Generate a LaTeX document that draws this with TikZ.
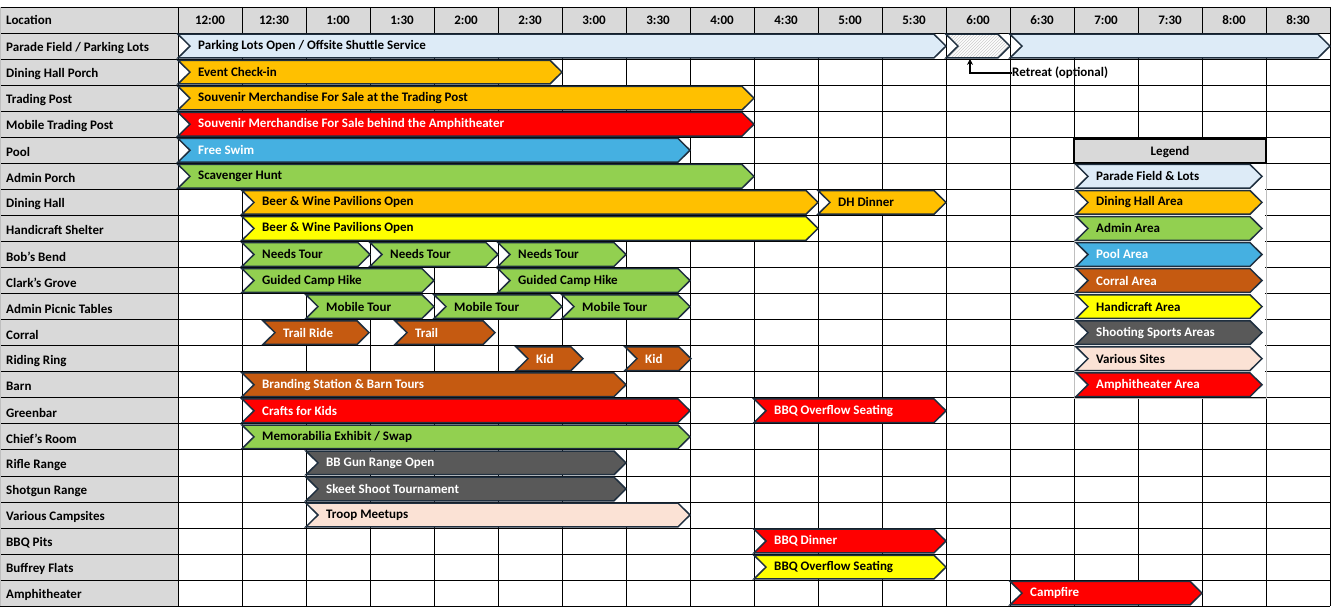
\documentclass[tikz,border=0pt]{standalone}
\usepackage{fontspec}
\setmainfont{Carlito}
\usetikzlibrary{patterns,arrows.meta}
\definecolor{lb}{HTML}{DDEBF7}
\definecolor{orn}{HTML}{FFC000}
\definecolor{rd}{HTML}{FF0000}
\definecolor{bl}{HTML}{45B0E1}
\definecolor{gr}{HTML}{92D050}
\definecolor{br}{HTML}{C55A11}
\definecolor{yl}{HTML}{FFFF00}
\definecolor{dg}{HTML}{595959}
\definecolor{pc}{HTML}{FBE2D5}
\definecolor{bd}{HTML}{1F2F3F}
\definecolor{hd}{HTML}{D9D9D9}
\newcounter{bn}
\newcommand\cx[1]{178+64*#1}
\newcommand\chev[6]{%
 \pgfmathsetmacro\yt{7+26.05*#3+1.2}%
 \pgfmathsetmacro\yb{7+26.05*(#3+1)-1.2}%
 \pgfmathsetmacro\ym{(\yt+\yb)/2}%
 \stepcounter{bn}%
 \filldraw[barline,fill=#4] (#1,\yt) -- (#2-12,\yt) -- (#2,\ym) -- (#2-12,\yb) -- (#1,\yb) -- (#1+12,\ym) -- cycle;
 \node[lab,text=#5] (b\thebn) at (#1+20,\ym) {#6};}
\begin{document}
\begin{tikzpicture}[x=1pt,y=-1pt,
 barline/.style={draw=bd,line width=1.5pt,line join=miter},
 lab/.style={anchor=west,font=\fontsize{13}{15}\selectfont\bfseries,inner sep=0pt},
 rowlab/.style={anchor=west,font=\fontsize{13}{15}\selectfont\bfseries,inner sep=0pt}]
\useasboundingbox (0,0) rectangle (1334,607);
\fill[white] (0,0) rectangle (1334,607);
% header and left column
\fill[hd] (0,7) rectangle (1330,33.05);
\fill[hd] (0,7) rectangle (178,606);
% grid
\foreach \r in {0,...,23}{\draw[line width=0.8pt] (0,7+26.05*\r) -- (1330,7+26.05*\r);}
\foreach \i in {0,...,18}{\draw[line width=0.8pt] (\cx{\i},7) -- (\cx{\i},606);}
\draw[gray!50] (0,7) -- (0,606);
% header texts
\node[rowlab] (loc) at (6,20) {Location};
\foreach \t [count=\k from 0] in {12:00,12:30,1:00,1:30,2:00,2:30,3:00,3:30,4:00,4:30,5:00,5:30,6:00,6:30,7:00,7:30,8:00,8:30}
 {\node[font=\fontsize{13}{15}\selectfont\bfseries,inner sep=0pt] (h\k) at (210+64*\k,20) {\t};}
\foreach \t [count=\k from 1] in {Parade Field / Parking Lots,Dining Hall Porch,Trading Post,Mobile Trading Post,Pool,Admin Porch,Dining Hall,Handicraft Shelter,Bob's Bend,Clark's Grove,Admin Picnic Tables,Corral,Riding Ring,Barn,Greenbar,Chief's Room,Rifle Range,Shotgun Range,Various Campsites,BBQ Pits,Buffrey Flats,Amphitheater}
 {\node[rowlab] (r\k) at (6,7+26.05*\k+15) {\t};}
% legend area
\fill[white] (\cx{14}+1,7+26.05*6) rectangle (\cx{17}-1,7+26.05*15-1);
\draw[black!25] (\cx{14},7+26.05*6) rectangle (\cx{17},7+26.05*15);
\filldraw[fill=hd,draw=black,line width=1.6pt] (\cx{14},7+26.05*5+2) rectangle (\cx{17},7+26.05*6);
\node[font=\fontsize{13}{15}\selectfont\bfseries,inner sep=0pt] (leg) at (1170,7+26.05*5.55) {Legend};
% bars
\chev{\cx{0}}{\cx{12}}{1}{lb}{black}{Parking Lots Open / Offsite Shuttle Service}
\pgfmathsetmacro\yt{7+26.05+1.2}\pgfmathsetmacro\yb{7+26.05*2-1.2}\pgfmathsetmacro\ym{(\yt+\yb)/2}
\path[fill=white] (\cx{12},\yt) -- (\cx{13}-12,\yt) -- (\cx{13},\ym) -- (\cx{13}-12,\yb) -- (\cx{12},\yb) -- (\cx{12}+12,\ym) -- cycle;
\path[pattern=north east lines,pattern color=gray!40] (\cx{12},\yt) -- (\cx{13}-12,\yt) -- (\cx{13},\ym) -- (\cx{13}-12,\yb) -- (\cx{12},\yb) -- (\cx{12}+12,\ym) -- cycle;
\draw[barline] (\cx{12},\yt) -- (\cx{13}-12,\yt) -- (\cx{13},\ym) -- (\cx{13}-12,\yb) -- (\cx{12},\yb) -- (\cx{12}+12,\ym) -- cycle;
\coordinate (hatch) at (970,\yb);
\chev{\cx{13}}{\cx{18}}{1}{lb}{black}{}
\chev{\cx{0}}{\cx{6}}{2}{orn}{black}{Event Check-in}
\chev{\cx{0}}{\cx{9}}{3}{orn}{black}{Souvenir Merchandise For Sale at the Trading Post}
\chev{\cx{0}}{\cx{9}}{4}{rd}{white}{Souvenir Merchandise For Sale behind the Amphitheater}
\chev{\cx{0}}{\cx{8}}{5}{bl}{white}{Free Swim}
\chev{\cx{0}}{\cx{9}}{6}{gr}{black}{Scavenger Hunt}
\chev{\cx{1}}{\cx{10}}{7}{orn}{black}{Beer \& Wine Pavilions Open}
\chev{\cx{10}}{\cx{12}}{7}{orn}{black}{DH Dinner}
\chev{\cx{1}}{\cx{10}}{8}{yl}{black}{Beer \& Wine Pavilions Open}
\chev{\cx{1}}{\cx{3}}{9}{gr}{black}{Needs Tour}
\chev{\cx{3}}{\cx{5}}{9}{gr}{black}{Needs Tour}
\chev{\cx{5}}{\cx{7}}{9}{gr}{black}{Needs Tour}
\chev{\cx{1}}{\cx{4}}{10}{gr}{black}{Guided Camp Hike}
\chev{\cx{5}}{\cx{8}}{10}{gr}{black}{Guided Camp Hike}
\chev{\cx{2}}{\cx{4}}{11}{gr}{black}{Mobile Tour}
\chev{\cx{4}}{\cx{6}}{11}{gr}{black}{Mobile Tour}
\chev{\cx{6}}{\cx{8}}{11}{gr}{black}{Mobile Tour}
\chev{263}{369}{12}{br}{white}{Trail Ride}
\chev{395}{495}{12}{br}{white}{Trail}
\chev{516}{583}{13}{br}{white}{Kid}
\chev{625}{691}{13}{br}{white}{Kid}
\chev{\cx{1}}{\cx{7}}{14}{br}{white}{Branding Station \& Barn Tours}
\chev{\cx{1}}{\cx{8}}{15}{rd}{white}{Crafts for Kids}
\chev{\cx{9}}{\cx{12}}{15}{rd}{white}{BBQ Overflow Seating}
\chev{\cx{1}}{\cx{8}}{16}{gr}{black}{Memorabilia Exhibit / Swap}
\chev{\cx{2}}{\cx{7}}{17}{dg}{white}{BB Gun Range Open}
\chev{\cx{2}}{\cx{7}}{18}{dg}{white}{Skeet Shoot Tournament}
\chev{\cx{2}}{\cx{8}}{19}{pc}{black}{Troop Meetups}
\chev{\cx{9}}{\cx{12}}{20}{rd}{white}{BBQ Dinner}
\chev{\cx{9}}{\cx{12}}{21}{yl}{black}{BBQ Overflow Seating}
\chev{\cx{13}}{\cx{16}}{22}{rd}{white}{Campfire}
% legend items
\chev{\cx{14}+2}{\cx{17}-4}{6}{lb}{black}{Parade Field \& Lots}
\chev{\cx{14}+2}{\cx{17}-4}{7}{orn}{black}{Dining Hall Area}
\chev{\cx{14}+2}{\cx{17}-4}{8}{gr}{black}{Admin Area}
\chev{\cx{14}+2}{\cx{17}-4}{9}{bl}{white}{Pool Area}
\chev{\cx{14}+2}{\cx{17}-4}{10}{br}{white}{Corral Area}
\chev{\cx{14}+2}{\cx{17}-4}{11}{yl}{black}{Handicraft Area}
\chev{\cx{14}+2}{\cx{17}-4}{12}{dg}{white}{Shooting Sports Areas}
\chev{\cx{14}+2}{\cx{17}-4}{13}{pc}{black}{Various Sites}
\chev{\cx{14}+2}{\cx{17}-4}{14}{rd}{white}{Amphitheater Area}
% retreat annotation
\node[lab,text=black] (ret) at (1012,73) {Retreat (optional)};
\draw[line width=1.6pt,-{Stealth[length=6pt,width=6pt]}] (ret.west) -| ([yshift=-1pt]hatch);
\end{tikzpicture}
\end{document}
